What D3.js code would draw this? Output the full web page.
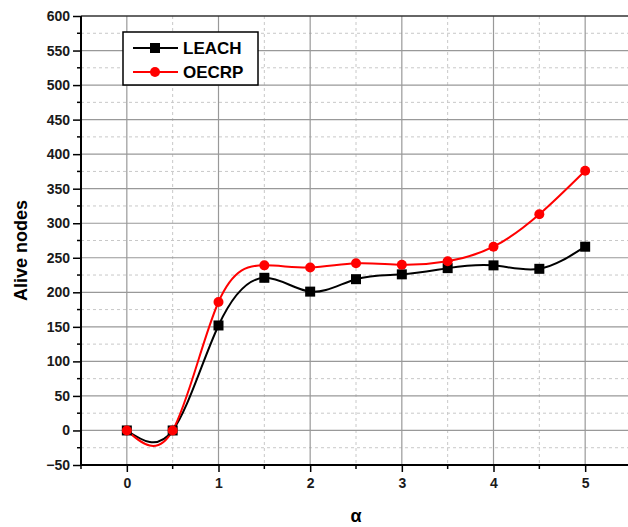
<!DOCTYPE html>
<html>
<head>
<meta charset="utf-8">
<script src="https://cdn.jsdelivr.net/npm/d3@7"></script>
<style>
  body { margin: 0; background: #fff; }
  svg text { font-family: Arial, "Liberation Sans", sans-serif; font-weight: bold; }
</style>
</head>
<body>
<svg id="chart" width="628" height="527"></svg>
<script>
// Data
const alphaValues = [0, 0.5, 1, 1.5, 2, 2.5, 3, 3.5, 4, 4.5, 5];
const leachNodes = [0, 0, 152, 221, 201, 219, 226, 235, 239, 234, 266];
const oecrpNodes = [0, 0, 186, 239, 236, 242, 240, 245, 266, 313, 376];
const xTicks = [0, 1, 2, 3, 4, 5];
const yTicks = [-50, 0, 50, 100, 150, 200, 250, 300, 350, 400, 450, 500, 550, 600];

const series = [
  { name: 'LEACH', values: leachNodes, color: '#000', marker: 'square' },
  { name: 'OECRP', values: oecrpNodes, color: '#ff0000', marker: 'circle' }
];

const svg = d3.select('#chart');
const plotLeft = 81, plotRight = 631, plotTop = 16, plotBottom = 465;

const x = d3.scaleLinear().domain([-0.5, 5.5]).range([plotLeft, plotRight]);
const y = d3.scaleLinear().domain([-50, 600]).range([plotBottom, plotTop]);

// Minor grid (dashed)
const minorX = d3.range(-0.5, 5.6, 1);
const minorY = d3.range(-25, 600, 50);
svg.append('g').selectAll('line').data(minorX).join('line')
  .attr('x1', d => x(d)).attr('x2', d => x(d))
  .attr('y1', plotTop).attr('y2', plotBottom)
  .attr('stroke', '#c8c8c8').attr('stroke-dasharray', '3,3');
svg.append('g').selectAll('line').data(minorY).join('line')
  .attr('x1', plotLeft).attr('x2', plotRight)
  .attr('y1', d => y(d)).attr('y2', d => y(d))
  .attr('stroke', '#c8c8c8').attr('stroke-dasharray', '3,3');

// Major grid
svg.append('g').selectAll('line').data(xTicks).join('line')
  .attr('x1', d => x(d)).attr('x2', d => x(d))
  .attr('y1', plotTop).attr('y2', plotBottom)
  .attr('stroke', '#999').attr('stroke-width', 1.2);
svg.append('g').selectAll('line').data(yTicks.slice(1, -1)).join('line')
  .attr('x1', plotLeft).attr('x2', plotRight)
  .attr('y1', d => y(d)).attr('y2', d => y(d))
  .attr('stroke', '#999').attr('stroke-width', 1.2);

// Frame
svg.append('line').attr('x1', plotLeft).attr('x2', plotRight).attr('y1', plotTop).attr('y2', plotTop)
  .attr('stroke', '#333').attr('stroke-width', 1.5);

// Axes
const xAxis = d3.axisBottom(x).tickValues(xTicks).tickSize(7).tickPadding(6).tickFormat(d3.format('d'));
const yAxis = d3.axisLeft(y).tickValues(yTicks).tickSize(8).tickPadding(3).tickFormat(d3.format('d'));

const gx = svg.append('g').attr('transform', `translate(0,${plotBottom})`).call(xAxis);
const gy = svg.append('g').attr('transform', `translate(${plotLeft},0)`).call(yAxis);

// minor ticks
gx.selectAll('.minor').data(minorX).join('line').attr('class', 'minor')
  .attr('x1', d => x(d)).attr('x2', d => x(d)).attr('y1', 0).attr('y2', 4)
  .attr('stroke', '#000').attr('stroke-width', 1.5);
gy.selectAll('.minor').data(minorY).join('line').attr('class', 'minor')
  .attr('x1', -4).attr('x2', 0).attr('y1', d => y(d)).attr('y2', d => y(d))
  .attr('stroke', '#000').attr('stroke-width', 1.5);

[gx, gy].forEach(g => {
  g.select('.domain').attr('stroke', '#000').attr('stroke-width', 2);
  g.selectAll('.tick line').attr('stroke', '#000').attr('stroke-width', 1.5);
  g.selectAll('.tick text').attr('font-size', 14).attr('fill', '#1a1a1a');
});
gy.select('.domain').attr('d', `M0,${plotTop}V${plotBottom}`);
gx.select('.domain').attr('d', `M${plotLeft},0H${plotRight}`);

// Lines
const line = d3.line().curve(d3.curveNatural)
  .x((d, i) => x(alphaValues[i])).y(d => y(d));

series.forEach(s => {
  svg.append('path').datum(s.values)
    .attr('d', line).attr('fill', 'none')
    .attr('stroke', s.color).attr('stroke-width', 2);
});

function drawMarker(g, s, cx, cy) {
  if (s.marker === 'square') {
    g.append('rect').attr('x', cx - 5).attr('y', cy - 5).attr('width', 10).attr('height', 10).attr('fill', s.color);
  } else {
    g.append('circle').attr('cx', cx).attr('cy', cy).attr('r', 5).attr('fill', s.color);
  }
}

series.forEach(s => {
  const g = svg.append('g');
  s.values.forEach((v, i) => drawMarker(g, s, x(alphaValues[i]), y(v)));
});

// Legend
const legend = svg.append('g');
legend.append('rect').attr('x', 123).attr('y', 32).attr('width', 135).attr('height', 53)
  .attr('fill', '#fff').attr('stroke', '#000').attr('stroke-width', 1.5);
series.forEach((s, i) => {
  const ly = 48 + i * 24;
  legend.append('line').attr('x1', 133).attr('x2', 178).attr('y1', ly).attr('y2', ly)
    .attr('stroke', s.color).attr('stroke-width', 2);
  drawMarker(legend, s, 155, ly);
  legend.append('text').attr('x', 183).attr('y', ly).attr('dy', '0.36em')
    .attr('font-size', 17).attr('fill', '#000').text(s.name);
});

// Axis titles
svg.append('text').attr('transform', `translate(27,${(plotTop + plotBottom) / 2 + 10}) rotate(-90)`)
  .attr('text-anchor', 'middle').attr('font-size', 18).attr('fill', '#000').text('Alive nodes');
svg.append('text').attr('x', 356).attr('y', 522).attr('text-anchor', 'middle')
  .attr('font-size', 18).attr('fill', '#000').text('α');
</script>
</body>
</html>
